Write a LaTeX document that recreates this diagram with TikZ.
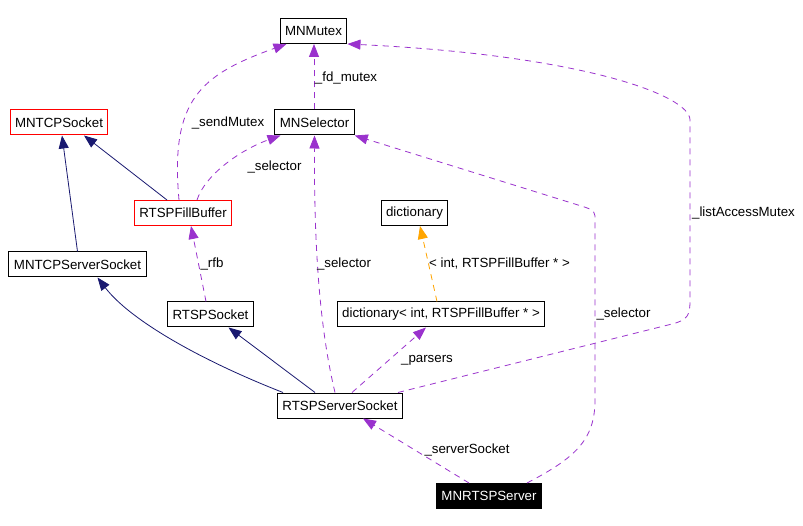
\documentclass[tikz,border=0pt]{standalone}
\usepackage{fontspec}
\setmainfont{Liberation Sans}
\usetikzlibrary{arrows.meta}
\definecolor{usepurple}{RGB}{154,50,205}
\definecolor{inhnavy}{RGB}{25,25,112}
\definecolor{tplorange}{RGB}{255,165,0}
\begin{document}
\begin{tikzpicture}[x=1pt,y=-1pt,font=\fontsize{13.3}{15}\selectfont,
  cls/.style={draw,line width=1pt,inner xsep=5pt,inner ysep=0pt,minimum height=25pt},
  redcls/.style={cls,draw=red},
  inh/.style={inhnavy,line width=0.8pt,-{Triangle[length=13pt,width=10pt]}},
  use/.style={usepurple,line width=0.8pt,dash pattern=on 6pt off 5pt,-{Triangle[length=13pt,width=10pt]}},
  tpl/.style={tplorange,line width=0.8pt,dash pattern=on 6pt off 5pt,-{Triangle[length=13pt,width=10pt]}},
  lbl/.style={inner sep=0pt}]
  \useasboundingbox[fill=white] (0,0) rectangle (803,526);
  % classes
  \node[cls] (mutex) at (313.5,31) {MNMutex};
  \node[redcls] (tcpsock) at (59,122.5) {MNTCPSocket};
  \node[cls] (selector) at (314.5,122.5) {MNSelector};
  \node[redcls] (fillbuf) at (183,213) {RTSPFillBuffer};
  \node[cls] (dict) at (414.5,213) {dictionary};
  \node[cls] (tcpserv) at (77.5,264.5) {MNTCPServerSocket};
  \node[cls] (rtspsock) at (210.5,314.5) {RTSPSocket};
  \node[cls] (dictint) at (441,314.5) {dictionary< int, RTSPFillBuffer * >};
  \node[cls] (servsock) at (340,405.5) {RTSPServerSocket};
  \node[cls,fill=black,text=white] (server) at (489,496) {MNRTSPServer};
  % inheritance
  \draw[inh] (tcpserv.north) -- ([xshift=3pt]tcpsock.south);
  \draw[inh] ([xshift=-16pt]fillbuf.north) -- ([xshift=25pt]tcpsock.south);
  \draw[inh] ([xshift=-57pt]servsock.north) .. controls (200,360) and (130,320) .. ([xshift=20pt]tcpserv.south);
  \draw[inh] ([xshift=-25pt]servsock.north) -- ([xshift=18pt]rtspsock.south);
  % usage
  \draw[use] ([xshift=-4pt]fillbuf.north) .. controls (170,100) and (200,75) .. ([xshift=-27pt]mutex.south);
  \draw[use] ([xshift=14pt]fillbuf.north) .. controls (205,175) and (240,150) .. ([xshift=-34pt]selector.south);
  \draw[use] ([xshift=-0.5pt]selector.north) -- ([xshift=0.5pt]mutex.south);
  \draw[use] ([xshift=-4.5pt]rtspsock.north) -- ([xshift=8pt]fillbuf.south);
  \draw[use] ([xshift=-5pt]servsock.north) .. controls (320,330) and (314,250) .. (selector.south);
  \draw[use] ([xshift=12pt]servsock.north) -- ([xshift=-15pt]dictint.south);
  \draw[tpl] ([xshift=-4pt]dictint.north) -- ([xshift=5.5pt]dict.south);
  \draw[use] ([xshift=58pt]servsock.north) -- (672,324) .. controls (688,320) and (690,315) .. (690,300)
    -- (690,120) .. controls (690,95) and (580,55) .. (mutex.south east);
  \draw[use] ([xshift=38pt]server.north) .. controls (575,458) and (595,440) .. (595,400)
    -- (595,216) .. controls (595,210) and (588,208) .. (578,205) -- (selector.south east);
  \draw[use] ([xshift=-20pt]server.north) -- ([xshift=23pt]servsock.south);
  % labels
  \node[lbl] (lsend) at (228,123) {\_sendMutex};
  \node[lbl] (lfd) at (346,78) {\_fd\_mutex};
  \node[lbl] (lsel1) at (274.5,167) {\_selector};
  \node[lbl] (llist) at (743.5,213) {\_listAccessMutex};
  \node[lbl] (lrfb) at (212,264) {\_rfb};
  \node[lbl] (lsel2) at (344,264) {\_selector};
  \node[lbl] (ltpl) at (499.5,264) {< int, RTSPFillBuffer * >};
  \node[lbl] (lsel3) at (623.5,314) {\_selector};
  \node[lbl] (lpars) at (427,360) {\_parsers};
  \node[lbl] (lserv) at (467,450) {\_serverSocket};
\end{tikzpicture}
\end{document}
